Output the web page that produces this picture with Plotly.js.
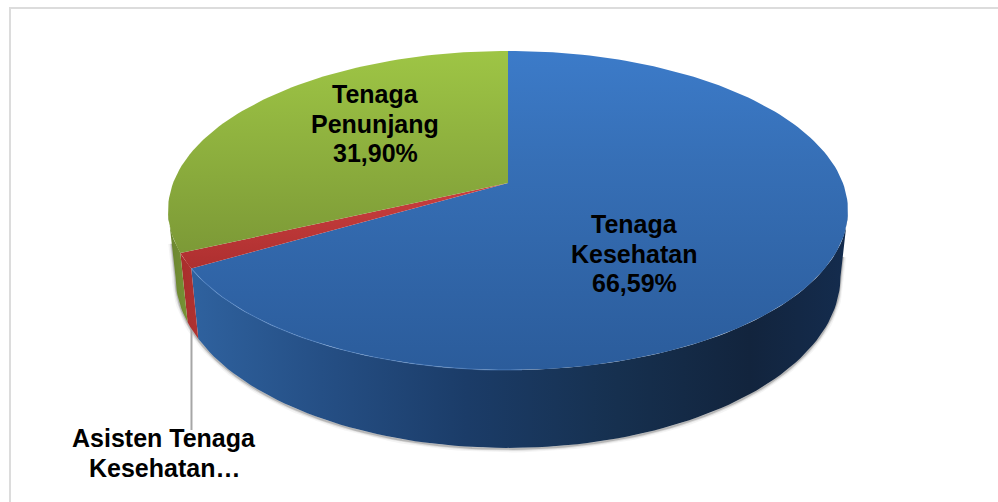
<!DOCTYPE html>
<html><head><meta charset="utf-8">
<script src="https://cdn.plot.ly/plotly-3.0.1.min.js"></script>
<style>html,body{margin:0;padding:0;background:#fff}#chart{width:998px;height:502px}</style>
</head><body><div id="chart"></div>
<script>
// data
const categories = ["Tenaga Kesehatan", "Asisten Tenaga Kesehatan", "Tenaga Penunjang"];
const values = [66.59, 1.51, 31.90];
const labelLines = [["Tenaga", "Kesehatan", "66,59%"], ["Asisten Tenaga", "Kesehatan…"], ["Tenaga", "Penunjang", "31,90%"]];
const labelX = [634, 164, 375];
const labelY = [224, 438, 94];
const lineStep = 29.6;

// projection of the tilted disc onto the page
const cx = 508, persp = 0.1724;
const topRim = {y0: 183, ax: 334.9, ay: 154.8};
const botRim = {y0: 247, ax: 327.5, ay: 166.3};
function proj(r, deg) {
  const t = deg * Math.PI / 180, u = Math.sin(t), v = Math.cos(t), w = 1 + persp * v;
  return [cx + r.ax * u / w, r.y0 - r.ay * v / w];
}
function arc(r, a, b) {
  const n = Math.max(2, Math.ceil(Math.abs(b - a) / 1.5)), xs = [], ys = [];
  for (let i = 0; i <= n; i++) { const p = proj(r, a + (b - a) * i / n); xs.push(p[0]); ys.push(p[1]); }
  return [xs, ys];
}
const total = values.reduce((s, v) => s + v, 0);
const edges = [0]; values.forEach((v, i) => edges.push(edges[i] + v / total * 360));
const silR = 100, silL = 260;

const topGrad = [
  {type:'vertical', start:51, stop:370, colorscale:[[0,'#3c7bc9'],[0.35,'#366fb6'],[1,'#2b5c9b']]},
  {type:'vertical', start:180, stop:270, colorscale:[[0,'#cc4040'],[1,'#ad2f2f']]},
  {type:'vertical', start:51, stop:260, colorscale:[[0,'#9ec545'],[1,'#7b9836']]}
];
const sideGrad = [
  {type:'horizontal', start:190, stop:848, colorscale:[[0,'#2f629f'],[0.2,'#254f85'],[0.42,'#1b3c68'],[0.65,'#16304f'],[0.85,'#12243d'],[1,'#142c4e']]},
  {type:'horizontal', start:180, stop:197, colorscale:[[0,'#a82e2c'],[1,'#b03230']]},
  {type:'horizontal', start:168, stop:195, colorscale:[[0,'#6a8430'],[1,'#7b9836']]}
];
function wall(a, b) {
  const t = arc(topRim, a, b), m = arc(botRim, b, a);
  return [t[0].concat(m[0]), t[1].concat(m[1])];
}
function wedge(a, b) {
  const t = arc(topRim, a, b);
  return [[cx].concat(t[0], [cx]), [topRim.y0].concat(t[1], [topRim.y0])];
}
const base = {mode:'lines', hoverinfo:'skip', showlegend:false};
const traces = [];

// soft shadow round the body
function along(a, b, f) { return [a[0] + (b[0] - a[0]) * f, a[1] + (b[1] - a[1]) * f]; }
[[7,'rgba(150,150,150,0.10)'],[4,'rgba(130,130,130,0.18)'],[2,'rgba(90,90,90,0.30)']].forEach(s => {
  const sb = arc(botRim, silR, silL);
  const lT = proj(topRim, silL), lB = proj(botRim, silL), rT = proj(topRim, silR), rB = proj(botRim, silR);
  const ls = along(lT, lB, 0.5), rs = along(rT, rB, 0.7);
  traces.push({...base, x:[rs[0]].concat(sb[0], [ls[0]]), y:[rs[1]].concat(sb[1].map(y => y + 1), [ls[1]]), line:{color:s[1], width:s[0]}});
});

// leader line
const lead = proj(botRim, (edges[1] + edges[2]) / 2);
traces.push({...base, x:[lead[0] - 1, lead[0] - 1], y:[lead[1] - 8, 430], line:{color:'#a6a6a6', width:2}});

// walls
const wallSpans = [[silR, edges[1]], [edges[1], edges[2]], [edges[2], silL]];
wallSpans.forEach((s, i) => {
  const w = wall(s[0], s[1]);
  traces.push({...base, name:categories[i], x:w[0], y:w[1], fill:'toself', line:{width:0}, fillgradient:sideGrad[i]});
});
// top slices
values.forEach((v, i) => {
  const w = wedge(edges[i], edges[i + 1]);
  traces.push({...base, name:categories[i], x:w[0], y:w[1], fill:'toself', line:{width:0}, fillgradient:topGrad[i]});
});
// rim highlight
const hi = arc(topRim, 178, edges[1]);
traces.push({...base, x:hi[0], y:hi[1], line:{color:'rgba(100,150,215,0.4)', width:1.2}});

const axis = {visible:false, fixedrange:true};
const annotations = [];
labelLines.forEach((lines, i) => lines.forEach((t, j) => annotations.push({
  x:labelX[i], y:labelY[i] + j * lineStep, xref:'x', yref:'y', text:'<b>' + t + '</b>', showarrow:false,
  align:'center', xanchor:'center', yanchor:'middle',
  font:{family:'Liberation Sans, Arial, sans-serif', size:25, color:'#000'}
})));
const layout = {
  width:998, height:502, margin:{l:0, r:0, t:0, b:0},
  paper_bgcolor:'#fff', plot_bgcolor:'#fff', showlegend:false,
  xaxis:{...axis, range:[0,998]}, yaxis:{...axis, range:[502,0]},
  shapes:[
    {type:'line', x0:9, x1:998, y0:8, y1:8, line:{color:'#dcdcdc', width:2}},
    {type:'line', x0:10, x1:10, y0:8, y1:502, line:{color:'#dcdcdc', width:2}}
  ],
  annotations: annotations
};
Plotly.newPlot('chart', traces, layout, {staticPlot:true, displayModeBar:false});
</script></body></html>
